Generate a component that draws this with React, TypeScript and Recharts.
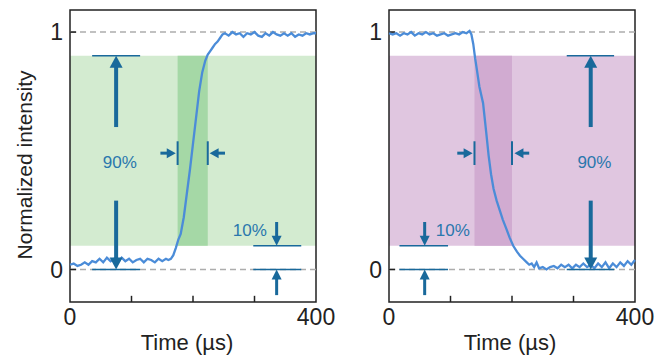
import React from "react";
import { ComposedChart, Line, XAxis, YAxis, ReferenceArea, ReferenceLine, ReferenceDot } from "recharts";

const timeTicks = [0, 100, 200, 300, 400];
const intensityTicks = [0, 1];

const riseTime = [0, 6, 12, 18, 24, 30, 36, 42, 48, 54, 60, 66, 72, 78, 84, 90, 96, 102, 108, 114, 120, 126, 132, 138, 144, 150, 156, 160, 164, 168, 172, 176, 180, 185, 190, 195, 200, 205, 210, 215, 220, 224, 228, 232, 236, 240, 244, 248, 252, 258, 264, 270, 276, 282, 288, 294, 300, 306, 312, 318, 324, 330, 336, 342, 348, 354, 360, 366, 372, 378, 384, 390, 396, 400];
const riseIntensity = [0.02, 0.025, 0.015, 0.02, 0.03, 0.02, 0.035, 0.03, 0.045, 0.03, 0.05, 0.035, 0.045, 0.03, 0.05, 0.035, 0.045, 0.03, 0.04, 0.045, 0.03, 0.045, 0.04, 0.03, 0.045, 0.035, 0.045, 0.04, 0.045, 0.06, 0.09, 0.125, 0.15, 0.22, 0.32, 0.42, 0.53, 0.64, 0.75, 0.83, 0.88, 0.905, 0.92, 0.935, 0.95, 0.96, 0.975, 0.99, 0.995, 0.985, 1.0, 0.99, 0.995, 0.98, 0.995, 0.99, 1.0, 0.985, 0.98, 0.995, 0.985, 1.0, 0.99, 0.985, 0.995, 0.985, 0.995, 0.98, 0.99, 0.985, 0.995, 0.99, 0.995, 0.995];

const fallTime = [0, 6, 12, 18, 24, 30, 36, 42, 48, 54, 60, 66, 72, 78, 84, 90, 96, 102, 108, 114, 120, 126, 131, 134, 137, 140, 143, 147, 153, 158, 162, 166, 170, 175, 180, 185, 191, 196, 202, 208, 213, 218, 224, 228, 232, 236, 240, 244, 250, 256, 262, 268, 274, 280, 286, 292, 298, 304, 310, 316, 322, 328, 334, 340, 346, 352, 358, 364, 370, 376, 382, 388, 394, 400];
const fallIntensity = [0.995, 0.99, 0.995, 0.985, 0.995, 0.99, 1.0, 0.985, 0.995, 0.99, 1.0, 0.99, 0.995, 0.985, 0.99, 0.995, 0.985, 0.99, 0.995, 0.99, 1.0, 0.995, 1.005, 0.99, 0.95, 0.89, 0.84, 0.77, 0.7, 0.58, 0.48, 0.4, 0.34, 0.29, 0.25, 0.21, 0.17, 0.135, 0.1, 0.075, 0.058, 0.045, 0.03, 0.02, 0.025, 0.01, 0.03, 0.005, 0.01, 0.0, 0.01, 0.015, 0.005, 0.02, 0.01, 0.02, 0.005, 0.02, 0.01, 0.025, 0.01, 0.02, 0.005, 0.025, 0.01, 0.03, 0.005, 0.025, 0.01, 0.03, 0.015, 0.035, 0.02, 0.04];

// annotations, in data units
const riseBand = [175, 224];
const fallBand = [139, 200];
const riseBigArrowX = 75;
const fallBigArrowX = 328;
const riseSmallArrowX = 336;
const fallSmallArrowX = 58;
const riseBigBar = [36, 114];
const fallBigBar = [289, 366];
const riseSmallBar = [298, 376];
const fallSmallBar = [17, 96];
const riseSideArrows = [[147, 172], [252, 227]];
const fallSideArrows = [[111, 136], [228, 204]];

const Y_MIN = -0.137;
const Y_MAX = 1.093;
const ARROW = "#19699b";
const TEXT = "#2a77ad";
const FONT = "'Liberation Sans', Arial, sans-serif";

const arrowShape = (shaft: number, head: number, len: number) => (p: any) => {
  const { x1, y1, x2, y2 } = p;
  const dx = x2 - x1;
  const dy = y2 - y1;
  const L = Math.hypot(dx, dy) || 1;
  const ux = dx / L;
  const uy = dy / L;
  const bx = x2 - ux * len;
  const by = y2 - uy * len;
  const px = -uy * head / 2;
  const py = ux * head / 2;
  return (
    <g>
      <line x1={x1} y1={y1} x2={bx + ux} y2={by + uy} stroke={ARROW} strokeWidth={shaft} />
      <polygon points={`${x2},${y2} ${bx + px},${by + py} ${bx - px},${by - py}`} fill={ARROW} />
    </g>
  );
};

const bigArrow = arrowShape(4, 13, 12);
const smallArrow = arrowShape(3, 10, 10);
const sideArrow = arrowShape(3, 10, 9);

const textShape = (text: string, anchor: "start" | "middle" | "end") => (p: any) => (
  <text x={p.cx} y={p.cy} textAnchor={anchor} dominantBaseline="central" fill={TEXT} fontSize={17} fontFamily={FONT}>
    {text}
  </text>
);

type PanelProps = {
  time: number[];
  intensity: number[];
  band: number[];
  light: string;
  dark: string;
  bigX: number;
  bigBar: number[];
  smallX: number;
  smallBar: number[];
  sideArrows: number[][];
  smallLabel: "start" | "end";
  left: number;
  width: number;
  marginLeft: number;
  showYLabel: boolean;
  labelDx: number;
};

function Panel(props: PanelProps) {
  const data = props.time.map((t, i) => ({ t, v: props.intensity[i] }));
  const tickLen = 0.026;
  const smallLabelX = props.smallLabel === "end" ? props.smallX - 16 : props.smallX + 18;
  return (
    <div style={{ position: "absolute", left: props.left, top: 0 }}>
      <ComposedChart
        width={props.width}
        height={360}
        data={data}
        margin={{ top: 10, right: props.width - props.marginLeft - 20 - 246, bottom: 28, left: props.marginLeft }}
      >
        <XAxis
          dataKey="t"
          type="number"
          domain={[0, 400]}
          ticks={timeTicks}
          tickFormatter={(v) => (v === 0 || v === 400 ? String(v) : "")}
          axisLine={false}
          tickLine={false}
          tickSize={0}
          tickMargin={7}
          height={30}
          interval={0}
          tick={{ fill: "#222", fontSize: 23, fontFamily: FONT }}
          label={{ value: "Time (µs)", position: "bottom", offset: 2, dx: props.labelDx, fill: "#222", fontSize: 22, fontFamily: FONT }}
        />
        <YAxis
          type="number"
          domain={[Y_MIN, Y_MAX]}
          allowDataOverflow
          ticks={intensityTicks}
          axisLine={false}
          tickLine={false}
          tickSize={0}
          tickMargin={7}
          width={20}
          tick={{ fill: "#222", fontSize: 23, fontFamily: FONT }}
          label={
            props.showYLabel
              ? { value: "Normalized intensity", angle: -90, position: "center", dx: -35, dy: 9, fill: "#222", fontSize: 21, fontFamily: FONT }
              : undefined
          }
        />
        <ReferenceArea x1={0} x2={400} y1={0.1} y2={0.9} fill={props.light} fillOpacity={1} stroke="none" />
        <ReferenceArea x1={props.band[0]} x2={props.band[1]} y1={0.1} y2={0.9} fill={props.dark} fillOpacity={1} stroke="none" />
        <ReferenceLine y={1} stroke="#adadad" strokeWidth={1.5} strokeDasharray="6 4" />
        <ReferenceLine y={0} stroke="#adadad" strokeWidth={1.5} strokeDasharray="6 4" />
        {[100, 200, 300].map((x) => (
          <ReferenceLine key={"xt" + x} segment={[{ x, y: Y_MIN }, { x, y: Y_MIN + tickLen }]} stroke="#222" strokeWidth={1.5} />
        ))}
        {intensityTicks.map((y) => (
          <ReferenceLine key={"yt" + y} segment={[{ x: 0, y }, { x: 10, y }]} stroke="#222" strokeWidth={1.5} />
        ))}
        <Line type="linear" dataKey="v" stroke="#4b8cd8" strokeWidth={2.3} dot={false} isAnimationActive={false} />

        <ReferenceLine segment={[{ x: props.bigBar[0], y: 0.9 }, { x: props.bigBar[1], y: 0.9 }]} stroke={ARROW} strokeWidth={1.6} />
        <ReferenceLine segment={[{ x: props.bigBar[0], y: 0 }, { x: props.bigBar[1], y: 0 }]} stroke={ARROW} strokeWidth={1.6} />
        <ReferenceLine segment={[{ x: props.bigX, y: 0.6 }, { x: props.bigX, y: 0.9 }]} shape={bigArrow} />
        <ReferenceLine segment={[{ x: props.bigX, y: 0.29 }, { x: props.bigX, y: 0 }]} shape={bigArrow} />

        <ReferenceLine segment={[{ x: props.smallBar[0], y: 0.1 }, { x: props.smallBar[1], y: 0.1 }]} stroke={ARROW} strokeWidth={1.6} />
        <ReferenceLine segment={[{ x: props.smallBar[0], y: 0 }, { x: props.smallBar[1], y: 0 }]} stroke={ARROW} strokeWidth={1.6} />
        <ReferenceLine segment={[{ x: props.smallX, y: 0.2 }, { x: props.smallX, y: 0.1 }]} shape={smallArrow} />
        <ReferenceLine segment={[{ x: props.smallX, y: -0.108 }, { x: props.smallX, y: 0 }]} shape={smallArrow} />

        {props.band.map((x) => (
          <ReferenceLine key={"bar" + x} segment={[{ x, y: 0.44 }, { x, y: 0.54 }]} stroke={ARROW} strokeWidth={2} />
        ))}
        {props.sideArrows.map((a) => (
          <ReferenceLine key={"sa" + a[0]} segment={[{ x: a[0], y: 0.49 }, { x: a[1], y: 0.49 }]} shape={sideArrow} />
        ))}

        <ReferenceDot x={props.bigX + 6} y={0.45} shape={textShape("90%", "middle")} />
        <ReferenceDot x={smallLabelX} y={0.165} shape={textShape("10%", props.smallLabel)} />
        <ReferenceArea x1={0} x2={400} y1={Y_MIN} y2={Y_MAX} fill="none" stroke="#222" strokeWidth={1.5} />
      </ComposedChart>
    </div>
  );
}

export default function App() {
  return (
    <div style={{ position: "absolute", left: 0, top: 0, width: 663, height: 360, background: "#fff", fontFamily: FONT }}>
      <Panel
        time={riseTime}
        intensity={riseIntensity}
        band={riseBand}
        light="#d3ebd0"
        dark="#a5d8a6"
        bigX={riseBigArrowX}
        bigBar={riseBigBar}
        smallX={riseSmallArrowX}
        smallBar={riseSmallBar}
        sideArrows={riseSideArrows}
        smallLabel="end"
        left={0}
        width={345}
        marginLeft={50}
        showYLabel
        labelDx={-6}
      />
      <Panel
        time={fallTime}
        intensity={fallIntensity}
        band={fallBand}
        light="#e0c6e0"
        dark="#d1abd1"
        bigX={fallBigArrowX}
        bigBar={fallBigBar}
        smallX={fallSmallArrowX}
        smallBar={fallSmallBar}
        sideArrows={fallSideArrows}
        smallLabel="start"
        left={330}
        width={333}
        marginLeft={39}
        showYLabel={false}
        labelDx={-2}
      />
    </div>
  );
}
